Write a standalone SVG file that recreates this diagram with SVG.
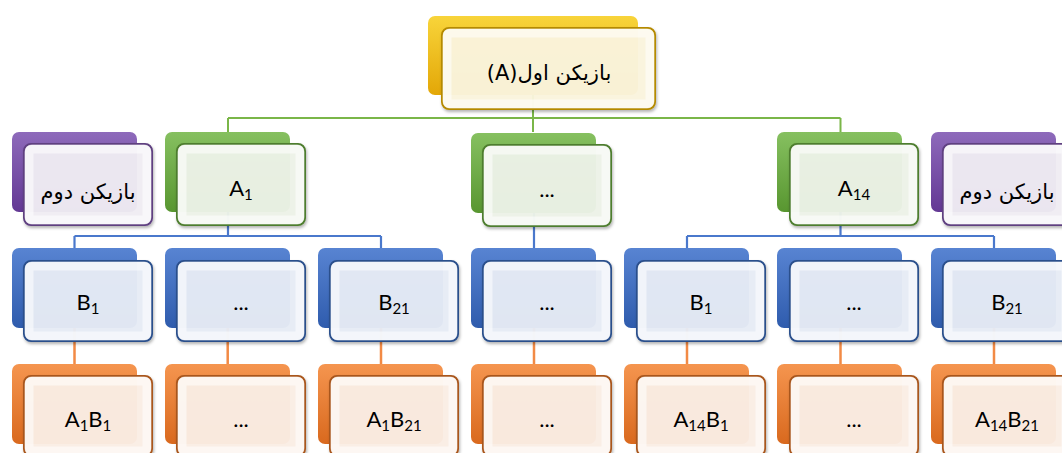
<svg xmlns="http://www.w3.org/2000/svg" width="1062" height="453" viewBox="0 0 1062 453">
<style>
.t{font-family:Lato,"DejaVu Sans",sans-serif;font-size:22px;fill:#000;text-anchor:middle}
.fa{font-family:"DejaVu Sans",sans-serif;font-size:21px;fill:#000;text-anchor:middle}
.sub{font-size:15px}
.band{fill:none;stroke:#fff;stroke-opacity:.55;stroke-width:9}
.f{stroke-width:2}
.cg{stroke:#7ab648;stroke-width:2;fill:none}
.cb{stroke:#4a78cc;stroke-width:2.2;fill:none}
.co{stroke:#f28a45;stroke-width:2.5;fill:none}
.yB{fill:url(#gy)} .gB{fill:url(#gg)} .pB{fill:url(#gp)} .bB{fill:url(#gb)} .oB{fill:url(#go)}
.yF{fill:#fcf6de;fill-opacity:.95;stroke:#b58a00}
.gF{fill:#eef3e9;fill-opacity:.95;stroke:#4e7d2e}
.pF{fill:#f1eef4;fill-opacity:.95;stroke:#5e3f80}
.bF{fill:#e8edf7;fill-opacity:.95;stroke:#2b4f8c}
.oF{fill:#fcefe6;fill-opacity:.95;stroke:#a9561c}
</style>
<defs>
<linearGradient id="gy" x1="0" y1="0" x2="0" y2="1"><stop offset="0" stop-color="#f8d43a"/><stop offset="1" stop-color="#e3a707"/></linearGradient>
<linearGradient id="gg" x1="0" y1="0" x2="0" y2="1"><stop offset="0" stop-color="#86c060"/><stop offset="1" stop-color="#589630"/></linearGradient>
<linearGradient id="gp" x1="0" y1="0" x2="0" y2="1"><stop offset="0" stop-color="#8e6abb"/><stop offset="1" stop-color="#633894"/></linearGradient>
<linearGradient id="gb" x1="0" y1="0" x2="0" y2="1"><stop offset="0" stop-color="#5884d2"/><stop offset="1" stop-color="#2f5cad"/></linearGradient>
<linearGradient id="go" x1="0" y1="0" x2="0" y2="1"><stop offset="0" stop-color="#f5954f"/><stop offset="1" stop-color="#d9691e"/></linearGradient>
<filter id="sh" x="-10%" y="-10%" width="120%" height="130%"><feDropShadow dx="1" dy="2" stdDeviation="1.5" flood-color="#000" flood-opacity=".3"/></filter>
</defs>

<g id="connectors">
<path class="cg" d="M533,95V118M228,118H840.5M228,118V132M533,118V132M840.5,118V132"/>
<path class="cb" d="M228,212V236M74.5,236H381M74.5,236V248M381,236V248M534,212V248M840.5,212V236M687,236H994M687,236V248M994,236V248"/>
<path class="co" d="M74.5,328V364M227.7,328V364M381,328V364M534,328V364M687,328V364M840.5,328V364M994,328V364"/>
</g>

<g id="playerA">
<rect class="yB" x="428" y="16" width="210" height="79" rx="7"/>
<rect class="yF f" x="442" y="28" width="213" height="81" rx="7" filter="url(#sh)"/>
<rect class="band" x="447" y="33" width="203" height="71" rx="3"/>
<text class="fa" x="549" y="80" font-size="23" direction="rtl" unicode-bidi="embed">بازیکن اول(A)</text>
</g>

<g id="playerB-left">
<rect class="pB" x="12" y="132" width="125" height="80" rx="7"/>
<rect class="pF f" x="24" y="144" width="128" height="81" rx="7" filter="url(#sh)"/>
<rect class="band" x="29" y="149" width="118" height="71" rx="3"/>
<text class="fa" x="88" y="199" direction="rtl" unicode-bidi="embed">بازیکن دوم</text>
</g>

<g id="A1">
<rect class="gB" x="165" y="132" width="125" height="80" rx="7"/>
<rect class="gF f" x="177" y="144" width="128" height="81" rx="7" filter="url(#sh)"/>
<rect class="band" x="182" y="149" width="118" height="71" rx="3"/>
<text class="t" x="241" y="196">A<tspan class="sub" dy="4">1</tspan></text>
</g>

<g id="Adots">
<rect class="gB" x="471" y="133" width="125" height="80" rx="7"/>
<rect class="gF f" x="483" y="145" width="128" height="81" rx="7" filter="url(#sh)"/>
<rect class="band" x="488" y="150" width="118" height="71" rx="3"/>
<text class="t" x="547" y="197">...</text>
</g>

<g id="A14">
<rect class="gB" x="777" y="132" width="125" height="80" rx="7"/>
<rect class="gF f" x="790" y="144" width="128" height="81" rx="7" filter="url(#sh)"/>
<rect class="band" x="795" y="149" width="118" height="71" rx="3"/>
<text class="t" x="854" y="196">A<tspan class="sub" dy="4">14</tspan></text>
</g>

<g id="playerB-right">
<rect class="pB" x="931" y="132" width="125" height="80" rx="7"/>
<rect class="pF f" x="943" y="144" width="128" height="81" rx="7" filter="url(#sh)"/>
<rect class="band" x="948" y="149" width="118" height="71" rx="3"/>
<text class="fa" x="1007" y="199" direction="rtl" unicode-bidi="embed">بازیکن دوم</text>
</g>

<g id="B-c0"><rect class="bB" x="12" y="248" width="125" height="80" rx="7"/><rect class="bF f" x="24" y="261" width="128" height="80" rx="7" filter="url(#sh)"/><rect class="band" x="29" y="266" width="118" height="70" rx="3"/><text class="t" x="88" y="310">B<tspan class="sub" dy="4">1</tspan></text></g>
<g id="B-c1"><rect class="bB" x="165" y="248" width="125" height="80" rx="7"/><rect class="bF f" x="177" y="261" width="128" height="80" rx="7" filter="url(#sh)"/><rect class="band" x="182" y="266" width="118" height="70" rx="3"/><text class="t" x="241" y="310">...</text></g>
<g id="B-c2"><rect class="bB" x="318" y="248" width="125" height="80" rx="7"/><rect class="bF f" x="330" y="261" width="128" height="80" rx="7" filter="url(#sh)"/><rect class="band" x="335" y="266" width="118" height="70" rx="3"/><text class="t" x="394" y="310">B<tspan class="sub" dy="4">21</tspan></text></g>
<g id="B-c3"><rect class="bB" x="471" y="248" width="125" height="80" rx="7"/><rect class="bF f" x="483" y="261" width="128" height="80" rx="7" filter="url(#sh)"/><rect class="band" x="488" y="266" width="118" height="70" rx="3"/><text class="t" x="547" y="310">...</text></g>
<g id="B-c4"><rect class="bB" x="624" y="248" width="125" height="80" rx="7"/><rect class="bF f" x="637" y="261" width="128" height="80" rx="7" filter="url(#sh)"/><rect class="band" x="642" y="266" width="118" height="70" rx="3"/><text class="t" x="701" y="310">B<tspan class="sub" dy="4">1</tspan></text></g>
<g id="B-c5"><rect class="bB" x="777" y="248" width="125" height="80" rx="7"/><rect class="bF f" x="790" y="261" width="128" height="80" rx="7" filter="url(#sh)"/><rect class="band" x="795" y="266" width="118" height="70" rx="3"/><text class="t" x="854" y="310">...</text></g>
<g id="B-c6"><rect class="bB" x="931" y="248" width="125" height="80" rx="7"/><rect class="bF f" x="943" y="261" width="128" height="80" rx="7" filter="url(#sh)"/><rect class="band" x="948" y="266" width="118" height="70" rx="3"/><text class="t" x="1007" y="310">B<tspan class="sub" dy="4">21</tspan></text></g>

<g id="AB-c0"><rect class="oB" x="12" y="364" width="125" height="80" rx="7"/><rect class="oF f" x="24" y="376" width="128" height="80" rx="7" filter="url(#sh)"/><rect class="band" x="29" y="381" width="118" height="70" rx="3"/><text class="t" x="88" y="427">A<tspan class="sub" dy="4">1</tspan><tspan dy="-4">B</tspan><tspan class="sub" dy="4">1</tspan></text></g>
<g id="AB-c1"><rect class="oB" x="165" y="364" width="125" height="80" rx="7"/><rect class="oF f" x="177" y="376" width="128" height="80" rx="7" filter="url(#sh)"/><rect class="band" x="182" y="381" width="118" height="70" rx="3"/><text class="t" x="241" y="427">...</text></g>
<g id="AB-c2"><rect class="oB" x="318" y="364" width="125" height="80" rx="7"/><rect class="oF f" x="330" y="376" width="128" height="80" rx="7" filter="url(#sh)"/><rect class="band" x="335" y="381" width="118" height="70" rx="3"/><text class="t" x="394" y="427">A<tspan class="sub" dy="4">1</tspan><tspan dy="-4">B</tspan><tspan class="sub" dy="4">21</tspan></text></g>
<g id="AB-c3"><rect class="oB" x="471" y="364" width="125" height="80" rx="7"/><rect class="oF f" x="483" y="376" width="128" height="80" rx="7" filter="url(#sh)"/><rect class="band" x="488" y="381" width="118" height="70" rx="3"/><text class="t" x="547" y="427">...</text></g>
<g id="AB-c4"><rect class="oB" x="624" y="364" width="125" height="80" rx="7"/><rect class="oF f" x="637" y="376" width="128" height="80" rx="7" filter="url(#sh)"/><rect class="band" x="642" y="381" width="118" height="70" rx="3"/><text class="t" x="701" y="427">A<tspan class="sub" dy="4">14</tspan><tspan dy="-4">B</tspan><tspan class="sub" dy="4">1</tspan></text></g>
<g id="AB-c5"><rect class="oB" x="777" y="364" width="125" height="80" rx="7"/><rect class="oF f" x="790" y="376" width="128" height="80" rx="7" filter="url(#sh)"/><rect class="band" x="795" y="381" width="118" height="70" rx="3"/><text class="t" x="854" y="427">...</text></g>
<g id="AB-c6"><rect class="oB" x="931" y="364" width="125" height="80" rx="7"/><rect class="oF f" x="943" y="376" width="128" height="80" rx="7" filter="url(#sh)"/><rect class="band" x="948" y="381" width="118" height="70" rx="3"/><text class="t" x="1007" y="427">A<tspan class="sub" dy="4">14</tspan><tspan dy="-4">B</tspan><tspan class="sub" dy="4">21</tspan></text></g>
</svg>
